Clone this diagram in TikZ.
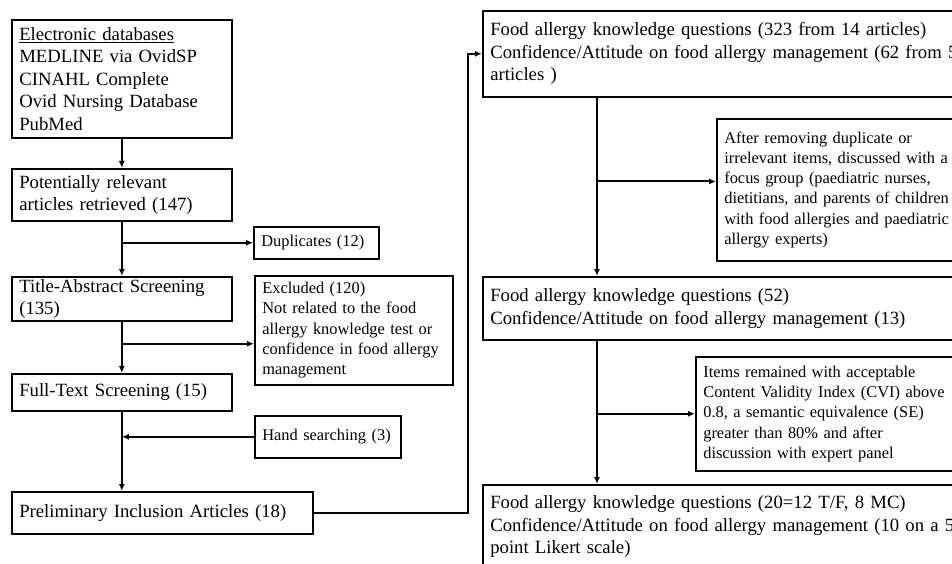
\documentclass[tikz,border=0pt]{standalone}
\usepackage{fontspec}
\setmainfont{Liberation Serif}
\usetikzlibrary{arrows.meta}
\usetikzlibrary{positioning, calc}
\tikzset{
stage box/.style = { rectangle, draw = black, line width = 1.6pt, anchor = north west, align = left, inner xsep = 7.5pt, inner ysep = 0pt, font = \fontsize{18.7}{22.5}\selectfont },
note box/.style = { stage box, font = \fontsize{16.4}{20.3}\selectfont },
flow line/.style = { line width = 2pt, -{Latex[length = 7pt, width = 6pt]} },
}

\begin{document}
\begin{tikzpicture}[x = 1pt, y = -1pt]
      \useasboundingbox (0, 0) rectangle (952, 564);
      \clip (0, 0) rectangle (952, 564);
      % left column
      \node[stage box, text width = 205pt, minimum height = 118pt] (db) at (11, 19) {\underline{Electronic databases}\\MEDLINE via OvidSP\\CINAHL Complete\\Ovid Nursing Database\\PubMed};
      \node[stage box, text width = 205pt, minimum height = 52pt] (pot) at (11, 168) {Potentially relevant\\articles retrieved (147)};
      \node[note box, text width = 110pt, minimum height = 32pt] (dup) at (253, 226) {Duplicates (12)};
      \node[stage box, text width = 205pt, minimum height = 44pt] (title) at (11, 276) {Title-Abstract Screening\\(135)};
      \node[note box, text width = 183pt, minimum height = 109pt] (excl) at (254, 275) {Excluded (120)\\Not related to the food\\allergy knowledge test or\\confidence in food allergy\\management};
      \node[stage box, text width = 205pt, minimum height = 37pt] (full) at (11, 373) {Full-Text Screening (15)};
      \node[note box, text width = 131pt, minimum height = 42pt] (hand) at (254, 415) {Hand searching (3)};
      \node[stage box, text width = 286pt, minimum height = 42pt] (prelim) at (11, 491) {Preliminary Inclusion Articles (18)};
      % right column
      \node[stage box, text width = 520pt, minimum height = 86pt] (r1) at (482, 10) {Food allergy knowledge questions (323 from 14 articles)\\Confidence/Attitude on food allergy management (62 from 5\\articles )};
      \node[note box, text width = 300pt, minimum height = 142pt] (r2) at (716, 118) {After removing duplicate or\\irrelevant items, discussed with a\\focus group (paediatric nurses,\\dietitians, and parents of children\\with food allergies and paediatric\\allergy experts)};
      \node[stage box, text width = 520pt, minimum height = 63pt] (r3) at (482, 276) {Food allergy knowledge questions (52)\\Confidence/Attitude on food allergy management (13)};
      \node[note box, text width = 300pt, minimum height = 114pt] (r4) at (695, 356) {Items remained with acceptable\\Content Validity Index (CVI) above\\0.8, a semantic equivalence (SE)\\greater than 80\% and after\\discussion with expert panel};
      \node[stage box, text width = 520pt, minimum height = 84pt] (r5) at (482, 484) {Food allergy knowledge questions (20=12 T/F, 8 MC)\\Confidence/Attitude on food allergy management (10 on a 5\\point Likert scale)};
      % connectors
      \draw[flow line] (db.south) -- (pot.north);
      \draw[flow line] (pot.south) -- (title.north);
      \draw[flow line] (pot.south |- dup.west) -- (dup.west);
      \draw[flow line] (title.south) -- (full.north);
      \coordinate (exclbranch) at ($(title.south)!0.43!(full.north)$);
      \draw[flow line] (exclbranch) -- (exclbranch -| excl.west);
      \draw[flow line] (full.south) -- (full.south |- prelim.north);
      \draw[flow line] (hand.west) -- (full.south |- hand.west);
      \draw[flow line] (prelim.east) -- ++(154, 0) |- (r1.west);
      \coordinate (spine) at (597, 0);
      \draw[flow line] (spine |- r1.south) -- (spine |- r3.north);
      \coordinate (r2branch) at ($(spine |- r1.south)!0.47!(spine |- r3.north)$);
      \draw[flow line] (r2branch) -- (r2branch -| r2.west);
      \draw[flow line] (spine |- r3.south) -- (spine |- r5.north);
      \draw[flow line] (spine |- r4.west) -- (r4.west);
    \end{tikzpicture}
\end{document}
